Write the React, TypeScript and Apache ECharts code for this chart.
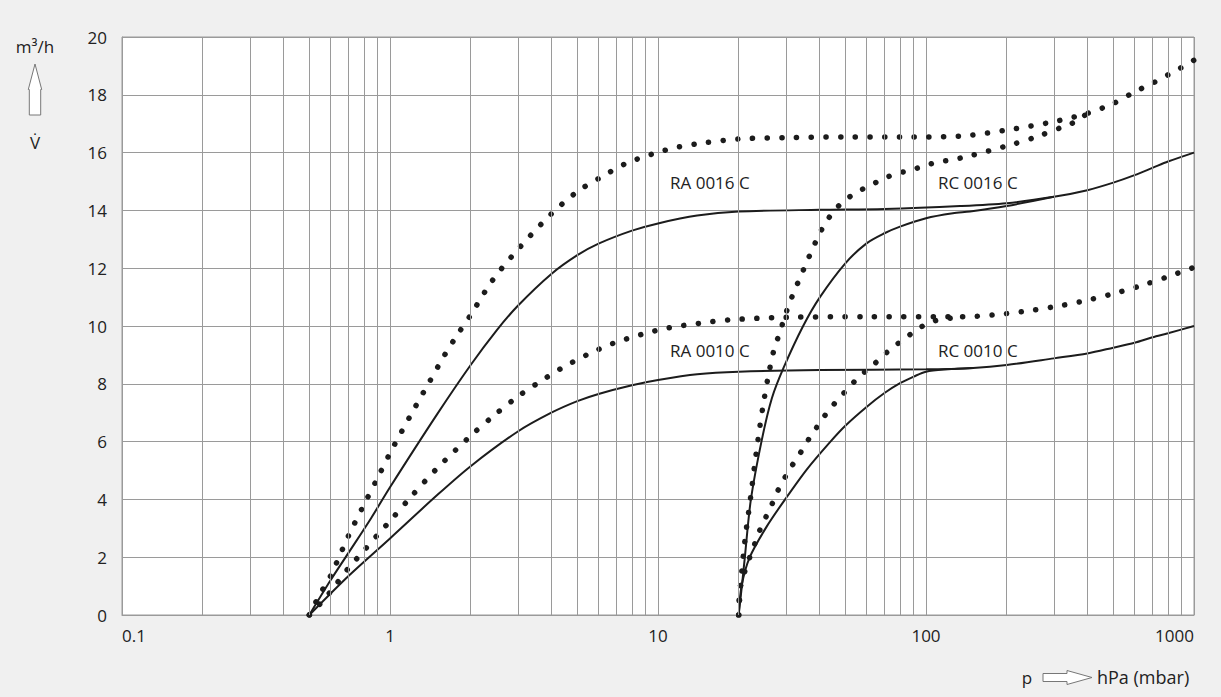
import React, { useEffect, useRef } from "react";
import * as echarts from "echarts";

// x: pressure p in hPa (mbar), y: volume flow V̇ in m³/h
const RA0016_SOLID: [number, number][] = [
  [0.5, 0], [0.6, 1.2], [0.7, 2.15], [0.85, 3.35], [1, 4.42], [1.5, 6.95], [2, 8.65], [2.5, 9.85],
  [3, 10.7], [4, 11.8], [5, 12.45], [6, 12.85], [8, 13.3], [10, 13.55], [14, 13.82], [20, 13.96],
  [40, 14.02], [70, 14.05], [134, 14.15], [200, 14.25], [300, 14.47], [400, 14.7], [500, 14.96],
  [600, 15.22], [700, 15.47], [800, 15.69], [1000, 16.0],
];
const RA0016_DOTTED: [number, number][] = [
  [0.5, 0], [0.55, 0.75], [0.6, 1.35], [0.7, 2.74], [0.8, 3.82], [0.9, 4.75], [1, 5.6], [1.2, 6.95],
  [1.4, 8.05], [1.6, 9.0], [1.8, 9.75], [2, 10.38], [2.4, 11.55], [3, 12.65], [4, 13.88], [5, 14.65],
  [6, 15.1], [7.5, 15.6], [9.5, 15.95], [12, 16.2], [15, 16.34], [20, 16.47], [30, 16.52], [50, 16.54],
  [80, 16.54], [134, 16.57], [200, 16.78], [300, 17.07], [400, 17.36], [500, 17.7], [600, 18.1],
  [700, 18.4], [800, 18.69], [900, 18.95], [1000, 19.2],
];
const RC0016_SOLID: [number, number][] = [
  [20, 0], [20.5, 0.9], [21.1, 2.02], [22.2, 3.98], [24.4, 6.06], [26.6, 7.5], [29.4, 8.55],
  [34.8, 10.0], [40.2, 11.0], [50, 12.17], [60, 12.86], [70, 13.21], [80, 13.44], [100, 13.73],
  [126, 13.9], [146, 13.96], [200, 14.15], [300, 14.47],
];
const RC0016_DOTTED: [number, number][] = [
  [20, 0], [20.4, 1.2], [21.1, 2.57], [22.2, 4.13], [22.9, 5.13], [23.7, 6.17], [24.6, 7.18],
  [25.7, 8.19], [27.1, 9.19], [28.3, 9.7], [29.4, 10.18], [30.6, 10.67], [32, 11.13], [33.6, 11.59],
  [35.4, 12.08], [37.2, 12.54], [39.2, 13.01], [41.5, 13.46], [44.5, 13.88], [48.6, 14.27],
  [53.7, 14.56], [59.8, 14.8], [67.3, 15.03], [75.5, 15.24], [85.5, 15.37], [96.4, 15.51],
  [109, 15.66], [123, 15.74], [142, 15.86], [200, 16.23], [255, 16.53], [324, 16.89], [363, 17.08],
  [400, 17.36],
];
const RA0010_SOLID: [number, number][] = [
  [0.5, 0], [0.7, 1.35], [1, 2.65], [1.5, 4.15], [2, 5.15], [3, 6.35], [4, 7.0], [5, 7.4], [6, 7.65],
  [8, 7.95], [10, 8.13], [14, 8.33], [20, 8.42], [40, 8.48], [100, 8.5], [150, 8.55], [200, 8.65],
  [300, 8.88], [400, 9.05], [500, 9.25], [600, 9.42], [700, 9.61], [800, 9.75], [1000, 10.0],
];
const RA0010_DOTTED: [number, number][] = [
  [0.5, 0], [0.55, 0.4], [0.6, 0.81], [0.7, 1.62], [0.8, 2.23], [0.9, 2.78], [1, 3.25], [1.2, 4.1],
  [1.5, 5.08], [2, 6.2], [2.5, 6.98], [3, 7.56], [3.5, 7.98], [4.33, 8.52], [5.42, 9.0], [6.8, 9.4],
  [8.7, 9.71], [11, 9.94], [14.2, 10.09], [18.4, 10.21], [30, 10.3], [60, 10.32], [137, 10.32],
  [178, 10.38], [230, 10.5], [294, 10.65], [378, 10.84], [483, 11.08], [617, 11.36], [784, 11.68],
  [1000, 12.03],
];
const RC0010_SOLID: [number, number][] = [
  [20, 0], [20.5, 1.0], [22, 2.0], [25.4, 3.05], [29.8, 4.0], [36, 5.05], [44, 6.0], [50, 6.55],
  [60, 7.2], [70, 7.68], [80, 8.02], [90, 8.25], [100, 8.42], [120, 8.5], [150, 8.55],
];
const RC0010_DOTTED: [number, number][] = [
  [20, 0], [20.3, 0.98], [22, 2.0], [23, 2.48], [24, 2.94], [25.3, 3.4], [26.7, 3.86], [28.1, 4.33],
  [29.9, 4.79], [31.8, 5.2], [34.1, 5.63], [36.5, 6.08], [39.1, 6.49], [42, 6.91], [45.4, 7.3],
  [49.5, 7.69], [53.7, 8.05], [58.9, 8.4], [64.9, 8.73], [71.3, 9.08], [78.8, 9.4], [87.1, 9.7],
  [96.4, 9.98], [108, 10.18], [123, 10.27], [139, 10.32],
];

const MINOR_X = [
  0.2, 0.3, 0.4, 0.5, 0.6, 0.7, 0.8, 0.9,
  2, 3, 4, 5, 6, 7, 8, 9,
  20, 30, 40, 50, 60, 70, 80, 90,
  200, 300, 400, 500, 600, 700, 800, 900,
];

const CURVE_LABELS = ["RA 0016 C", "RC 0016 C", "RA 0010 C", "RC 0010 C"];

const FONT = "'Open Sans', 'Noto Sans', sans-serif";
const INK = "#1c1c1c";
const GRID = "#9a9a9a";
const FS = 17;

export default function App() {
  const ref = useRef<HTMLDivElement>(null);

  useEffect(() => {
    if (!ref.current) return;
    const chart = echarts.init(ref.current, undefined, { renderer: "svg" });

    const solid = (name: string, data: [number, number][]) => ({
      name,
      type: "line",
      data,
      smooth: 0.3,
      symbol: "none",
      z: 4,
      lineStyle: { color: INK, width: 2 },
    });
    const dotted = (name: string, data: [number, number][]) => ({
      name,
      type: "line",
      data,
      smooth: 0.3,
      symbol: "none",
      z: 4,
      lineStyle: { color: INK, width: 5.5, type: [0.1, 14.6], cap: "round" },
    });

    const txt = (text: string, x: number, y: number, align = "left", size = FS) => ({
      type: "text",
      x,
      y,
      style: {
        text,
        fill: "#222",
        font: `${size}px ${FONT}`,
        textAlign: align,
        textVerticalAlign: "middle",
      },
    });

    chart.setOption({
      animation: false,
      backgroundColor: "#f0f0f0",
      grid: {
        left: 122,
        right: 27,
        top: 37,
        bottom: 82,
        show: true,
        backgroundColor: "#ffffff",
        borderColor: GRID,
        borderWidth: 1,
      },
      xAxis: {
        type: "log",
        logBase: 10,
        min: 0.1,
        max: 1000,
        axisLine: { show: true, lineStyle: { color: GRID } },
        axisTick: { show: false },
        splitLine: { show: true, lineStyle: { color: GRID, width: 1 } },
        axisLabel: {
          color: "#222",
          fontFamily: FONT,
          fontSize: FS,
          margin: 12,
          alignMinLabel: "left",
          alignMaxLabel: "right",
          formatter: (v: number) => String(Number(v.toPrecision(3))),
        },
      },
      yAxis: {
        type: "value",
        min: 0,
        max: 20,
        interval: 2,
        axisLine: { show: true, lineStyle: { color: GRID } },
        axisTick: { show: false },
        splitLine: { show: true, lineStyle: { color: GRID, width: 1 } },
        axisLabel: { color: "#222", fontFamily: FONT, fontSize: FS, margin: 15 },
      },
      series: [
        {
          type: "line",
          data: [],
          z: 1,
          silent: true,
          markLine: {
            silent: true,
            symbol: ["none", "none"],
            label: { show: false },
            lineStyle: { color: GRID, type: "solid", width: 1 },
            data: MINOR_X.map((v) => ({ xAxis: v })),
          },
        },
        dotted("RA 0016 C dotted", RA0016_DOTTED),
        solid("RA 0016 C", RA0016_SOLID),
        dotted("RC 0016 C dotted", RC0016_DOTTED),
        solid("RC 0016 C", RC0016_SOLID),
        dotted("RA 0010 C dotted", RA0010_DOTTED),
        solid("RA 0010 C", RA0010_SOLID),
        dotted("RC 0010 C dotted", RC0010_DOTTED),
        solid("RC 0010 C", RC0010_SOLID),
      ],
      graphic: [
        txt(CURVE_LABELS[0], 670, 182),
        txt(CURVE_LABELS[1], 938, 182),
        txt(CURVE_LABELS[2], 670, 350),
        txt(CURVE_LABELS[3], 938, 350),
        txt("m³/h", 35, 46, "center"),
        txt("V̇", 35, 142, "center"),
        {
          type: "polygon",
          shape: {
            points: [[35, 64], [41.7, 89.5], [40.7, 89.5], [40.7, 115], [29.3, 115], [29.3, 89.5], [28.3, 89.5]],
          },
          style: { fill: "#ffffff", stroke: "#777", lineWidth: 1 },
        },
        txt("p", 1027, 677, "center"),
        {
          type: "polygon",
          shape: {
            points: [[1043, 673.5], [1067, 673.5], [1067, 670.5], [1092, 677.5], [1067, 684.5], [1067, 681.5], [1043, 681.5]],
          },
          style: { fill: "#ffffff", stroke: "#777", lineWidth: 1 },
        },
        txt("hPa (mbar)", 1097, 677, "left", 18),
      ],
    });

    return () => chart.dispose();
  }, []);

  return (
    <div
      ref={ref}
      style={{ position: "fixed", left: 0, top: 0, width: 1221, height: 697 }}
    />
  );
}
